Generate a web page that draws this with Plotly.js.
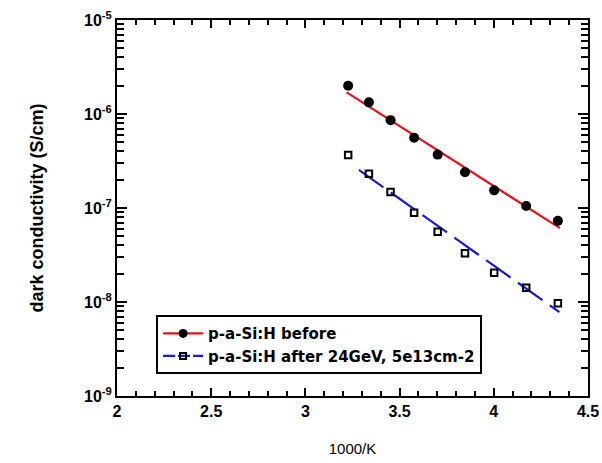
<!DOCTYPE html>
<html>
<head>
<meta charset="utf-8">
<script src="https://cdn.plot.ly/plotly-3.0.1.min.js"></script>
<style>
  html, body { margin: 0; padding: 0; background: #fff; }
  #chart { width: 602px; height: 463px; }
</style>
</head>
<body>
<div id="chart"></div>
<script>
// inverse temperature, 1000/K
const invT = [3.227, 3.337, 3.452, 3.577, 3.702, 3.847, 4.002, 4.172, 4.340];
// dark conductivity (S/cm)
const sigmaBefore = [2.0e-6, 1.33e-6, 8.6e-7, 5.6e-7, 3.7e-7, 2.4e-7, 1.54e-7, 1.05e-7, 7.3e-8];
const sigmaAfter  = [3.66e-7, 2.32e-7, 1.48e-7, 8.9e-8, 5.6e-8, 3.3e-8, 2.05e-8, 1.42e-8, 9.7e-9];
// Arrhenius fit lines (end points)
const fitBeforeX = [3.219, 4.351];
const fitBeforeY = [1.70e-6, 6.1e-8];
const fitAfterX  = [3.284, 4.348];
const fitAfterY  = [2.54e-7, 7.8e-9];
// legend names
const seriesNames = ['p-a-Si:H before', 'p-a-Si:H after 24GeV, 5e13cm-2'];
// tick labels
const yTickVals = [1e-9, 1e-8, 1e-7, 1e-6, 1e-5];
const yTickText = ['<b>10<sup>-9</sup></b>', '<b>10<sup>-8</sup></b>', '<b>10<sup>-7</sup></b>', '<b>10<sup>-6</sup></b>', '<b>10<sup>-5</sup></b>'];
const xTickStart = 2, xTickStep = 0.5, xMinorStep = 0.1;
const xRange = [2, 4.5];
const yRangeLog = [-9, -5];

const RED = '#e8121b';
const BLUE = '#1a1ad6';

const traces = [
  { x: fitBeforeX, y: fitBeforeY, mode: 'lines', type: 'scatter',
    line: { color: RED, width: 2.2 }, showlegend: false, hoverinfo: 'skip' },
  { x: fitAfterX, y: fitAfterY, mode: 'lines', type: 'scatter',
    line: { color: BLUE, width: 2.2, dash: '30px,9px' }, showlegend: false, hoverinfo: 'skip' },
  { x: invT, y: sigmaBefore, mode: 'markers', type: 'scatter', showlegend: false,
    marker: { symbol: 'circle', size: 10, color: '#000', line: { width: 0 } } },
  // drawn on the overlaid (identical-range) axes that carry the top/right ticks
  { x: invT, y: sigmaAfter, mode: 'markers', type: 'scatter', showlegend: false,
    xaxis: 'x2', yaxis: 'y2',
    marker: { symbol: 'square-open', size: 6.5, color: '#000', line: { width: 2, color: '#000' } } },
  { x: [null], y: [null], mode: 'lines+markers', type: 'scatter', name: seriesNames[0],
    line: { color: RED, width: 2.2 },
    marker: { symbol: 'circle', size: 9, color: '#000' } },
  { x: [null], y: [null], mode: 'lines+markers', type: 'scatter', name: seriesNames[1],
    line: { color: BLUE, width: 2.2, dash: '12px,3px' },
    marker: { symbol: 'square-open', size: 6, color: '#000', line: { width: 2, color: '#000' } } }
];

const xTicks = {
  tickmode: 'linear', tick0: xTickStart, dtick: xTickStep,
  ticks: 'inside', ticklen: 8, tickwidth: 2, tickcolor: '#000',
  minor: { ticks: 'inside', dtick: xMinorStep, tick0: xTickStart, ticklen: 5, tickwidth: 2, tickcolor: '#000' },
  showgrid: false, zeroline: false
};
const yTicks = {
  type: 'log', tickmode: 'array', tickvals: yTickVals, ticktext: yTickText,
  ticks: 'inside', ticklen: 10, tickwidth: 2, tickcolor: '#000',
  minor: { ticks: 'inside', dtick: 'D1', ticklen: 7, tickwidth: 2, tickcolor: '#000' },
  showgrid: false, zeroline: false
};

const layout = {
  width: 602, height: 463,
  margin: { l: 117, r: 14, t: 20, b: 67 },
  paper_bgcolor: '#fff', plot_bgcolor: '#fff',
  showlegend: true,
  xaxis: Object.assign({}, xTicks, {
    range: xRange,
    showline: true, linecolor: '#000', linewidth: 2, mirror: true,
    tickfont: { family: 'Liberation Sans, Arial, sans-serif', size: 16, color: '#000', weight: 'bold' },
    title: { text: '1000/K', font: { family: 'Liberation Sans, Arial, sans-serif', size: 15, color: '#000' }, standoff: 24 }
  }),
  yaxis: Object.assign({}, yTicks, {
    range: yRangeLog,
    showline: true, linecolor: '#000', linewidth: 2, mirror: true,
    tickfont: { family: 'Liberation Sans, Arial, sans-serif', size: 16, color: '#000' },
    title: { text: '<b>dark conductivity (S/cm)</b>', font: { family: 'Liberation Sans, Arial, sans-serif', size: 18, color: '#000' }, standoff: 36 }
  }),
  xaxis2: Object.assign({}, xTicks, {
    range: xRange, overlaying: 'x', side: 'top', anchor: 'y2',
    showline: false, showticklabels: false
  }),
  yaxis2: Object.assign({}, yTicks, {
    range: yRangeLog, overlaying: 'y', side: 'right', anchor: 'x2',
    showline: false, showticklabels: false
  }),
  legend: {
    x: 0.083, y: 0.215, xanchor: 'left', yanchor: 'top',
    bgcolor: '#fff', bordercolor: '#000', borderwidth: 2,
    font: { family: 'DejaVu Sans, sans-serif', size: 15, color: '#000', weight: 'bold' },
    tracegroupgap: 0, itemwidth: 40
  }
};

Plotly.newPlot('chart', traces, layout, { staticPlot: true, displayModeBar: false });
</script>
</body>
</html>
